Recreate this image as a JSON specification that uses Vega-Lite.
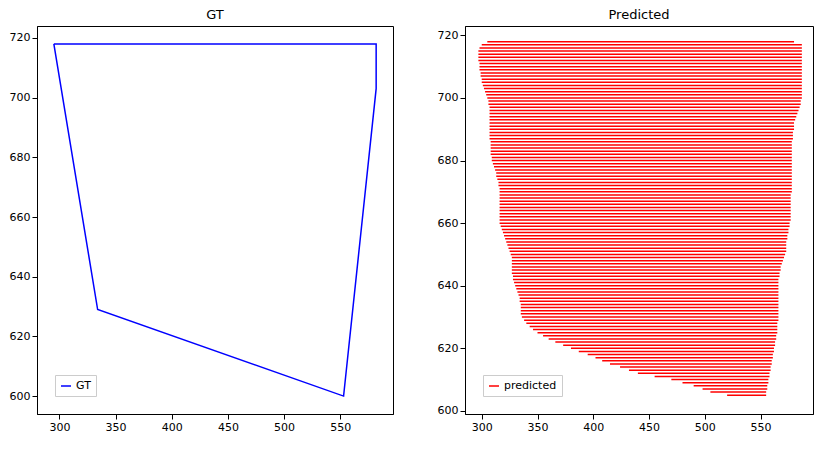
{
  "$schema": "https://vega.github.io/schema/vega-lite/v6.json",
  "padding": {"left": 8, "top": 8, "right": 5, "bottom": 5},
  "config": {"font": "DejaVu Sans", "view": {"stroke": "black"}, "axis": {"grid": false, "domainColor": "black", "tickColor": "black", "labelColor": "black", "labelFontSize": 11}, "title": {"fontWeight": "normal", "fontSize": 13}},
  "spacing": 42,
  "hconcat": [
    {
      "title": "GT",
      "width": 356, "height": 388,
      "data": {"values": [
        {"i": 0, "x": 295, "y": 718, "s": "GT"},
        {"i": 1, "x": 582, "y": 718, "s": "GT"},
        {"i": 2, "x": 582, "y": 703, "s": "GT"},
        {"i": 3, "x": 553, "y": 600, "s": "GT"},
        {"i": 4, "x": 334, "y": 629, "s": "GT"},
        {"i": 5, "x": 295, "y": 718, "s": "GT"}
      ]},
      "mark": {"type": "line", "strokeWidth": 1.5},
      "encoding": {
        "order": {"field": "i"},
        "x": {"field": "x", "type": "quantitative", "scale": {"domain": [280, 597], "nice": false, "zero": false}, "axis": {"values": [300, 350, 400, 450, 500, 550], "title": null}},
        "y": {"field": "y", "type": "quantitative", "scale": {"domain": [594, 724], "nice": false, "zero": false}, "axis": {"values": [600, 620, 640, 660, 680, 700, 720], "title": null}},
        "color": {"field": "s", "type": "nominal", "scale": {"range": ["blue"]}, "legend": {"title": null, "orient": "bottom-left", "strokeColor": "#ccc", "fillColor": "white", "padding": 5, "symbolType": "stroke", "labelFontSize": 11}}
      }
    },
    {
      "title": "Predicted",
      "width": 348, "height": 388,
      "data": {"values": [
        {"y":718,"a":305,"b":580},{"y":717,"a":300,"b":587},{"y":716,"a":298,"b":587},{"y":715,"a":297,"b":587},{"y":714,"a":297,"b":587},{"y":713,"a":297,"b":587},{"y":712,"a":297,"b":587},{"y":711,"a":298,"b":587},{"y":710,"a":298,"b":587},{"y":709,"a":298,"b":587},{"y":708,"a":299,"b":587},{"y":707,"a":299,"b":587},{"y":706,"a":300,"b":587},{"y":705,"a":300,"b":587},{"y":704,"a":301,"b":587},{"y":703,"a":302,"b":587},{"y":702,"a":303,"b":587},{"y":701,"a":304,"b":587},{"y":700,"a":305,"b":587},{"y":699,"a":306,"b":586},{"y":698,"a":306,"b":586},{"y":697,"a":307,"b":585},{"y":696,"a":307,"b":584},{"y":695,"a":307,"b":583},{"y":694,"a":307,"b":582},{"y":693,"a":307,"b":581},{"y":692,"a":307,"b":580},{"y":691,"a":307,"b":580},{"y":690,"a":307,"b":580},{"y":689,"a":307,"b":579},{"y":688,"a":307,"b":579},{"y":687,"a":307,"b":579},{"y":686,"a":308,"b":578},{"y":685,"a":308,"b":578},{"y":684,"a":308,"b":578},{"y":683,"a":308,"b":578},{"y":682,"a":308,"b":578},{"y":681,"a":309,"b":578},{"y":680,"a":309,"b":578},{"y":679,"a":310,"b":578},{"y":678,"a":311,"b":578},{"y":677,"a":312,"b":578},{"y":676,"a":313,"b":578},{"y":675,"a":313,"b":578},{"y":674,"a":314,"b":578},{"y":673,"a":315,"b":578},{"y":672,"a":315,"b":578},{"y":671,"a":316,"b":578},{"y":670,"a":316,"b":578},{"y":669,"a":316,"b":577},{"y":668,"a":316,"b":577},{"y":667,"a":316,"b":577},{"y":666,"a":316,"b":577},{"y":665,"a":316,"b":577},{"y":664,"a":316,"b":577},{"y":663,"a":316,"b":577},{"y":662,"a":316,"b":577},{"y":661,"a":316,"b":577},{"y":660,"a":316,"b":576},{"y":659,"a":317,"b":576},{"y":658,"a":318,"b":575},{"y":657,"a":319,"b":575},{"y":656,"a":320,"b":574},{"y":655,"a":321,"b":574},{"y":654,"a":322,"b":573},{"y":653,"a":323,"b":573},{"y":652,"a":324,"b":573},{"y":651,"a":325,"b":573},{"y":650,"a":326,"b":572},{"y":649,"a":327,"b":571},{"y":648,"a":327,"b":570},{"y":647,"a":327,"b":569},{"y":646,"a":327,"b":568},{"y":645,"a":327,"b":568},{"y":644,"a":327,"b":567},{"y":643,"a":328,"b":567},{"y":642,"a":328,"b":566},{"y":641,"a":329,"b":566},{"y":640,"a":330,"b":566},{"y":639,"a":331,"b":566},{"y":638,"a":332,"b":566},{"y":637,"a":333,"b":566},{"y":636,"a":334,"b":566},{"y":635,"a":334,"b":566},{"y":634,"a":335,"b":566},{"y":633,"a":335,"b":566},{"y":632,"a":335,"b":566},{"y":631,"a":335,"b":566},{"y":630,"a":336,"b":566},{"y":629,"a":338,"b":566},{"y":628,"a":340,"b":565},{"y":627,"a":343,"b":565},{"y":626,"a":346,"b":565},{"y":625,"a":350,"b":565},{"y":624,"a":355,"b":564},{"y":623,"a":360,"b":564},{"y":622,"a":366,"b":563},{"y":621,"a":373,"b":563},{"y":620,"a":380,"b":562},{"y":619,"a":387,"b":562},{"y":618,"a":395,"b":561},{"y":617,"a":402,"b":561},{"y":616,"a":408,"b":560},{"y":615,"a":415,"b":560},{"y":614,"a":424,"b":559},{"y":613,"a":432,"b":559},{"y":612,"a":440,"b":558},{"y":611,"a":455,"b":558},{"y":610,"a":470,"b":557},{"y":609,"a":480,"b":557},{"y":608,"a":490,"b":556},{"y":607,"a":498,"b":556},{"y":606,"a":505,"b":555},{"y":605,"a":520,"b":555}
      ]},
      "transform": [{"calculate": "'predicted'", "as": "s"}],
      "mark": {"type": "rule", "strokeWidth": 1.5},
      "encoding": {
        "x": {"field": "a", "type": "quantitative", "scale": {"domain": [285, 597], "nice": false, "zero": false}, "axis": {"values": [300, 350, 400, 450, 500, 550], "title": null}},
        "x2": {"field": "b"},
        "y": {"field": "y", "type": "quantitative", "scale": {"domain": [599, 723], "nice": false, "zero": false}, "axis": {"values": [600, 620, 640, 660, 680, 700, 720], "title": null}},
        "color": {"field": "s", "type": "nominal", "scale": {"range": ["red"]}, "legend": {"title": null, "orient": "bottom-left", "strokeColor": "#ccc", "fillColor": "white", "padding": 5, "symbolType": "stroke", "labelFontSize": 11}}
      }
    }
  ],
  "resolve": {"scale": {"color": "independent"}, "legend": {"color": "independent"}}
}
